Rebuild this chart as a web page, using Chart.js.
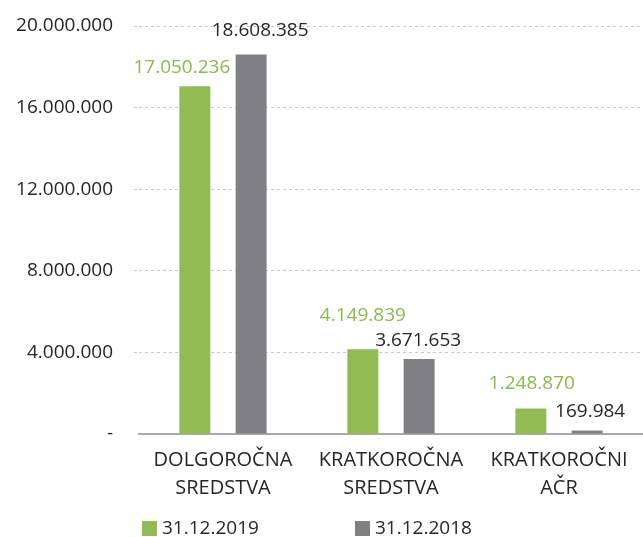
<!DOCTYPE html>
<html>
<head>
<meta charset="utf-8">
<script src="https://cdn.jsdelivr.net/npm/chart.js@4/dist/chart.umd.min.js"></script>
<style>
    html, body { margin: 0; padding: 0; background: #fff; }
    #wrap { width: 643px; height: 537px; }
</style>
</head>
<body>
<div id="wrap"><canvas id="assets-chart"></canvas></div>
<script>
const categories = [['DOLGOROČNA', 'SREDSTVA'], ['KRATKOROČNA', 'SREDSTVA'], ['KRATKOROČNI', 'AČR']];
const seriesNames = ['31.12.2019', '31.12.2018'];
const values2019 = [17050236, 4149839, 1248870];
const values2018 = [18608385, 3671653, 169984];
const yTicks = [0, 4000000, 8000000, 12000000, 16000000, 20000000];

const GREEN = '#92bb53';
const GRAY = '#808084';
const TEXT = '#262626';
const FONT = "'Open Sans', 'DejaVu Sans', sans-serif";

function fmt(n) {
    if (n === 0) return '-';
    return n.toString().replace(/\B(?=(\d{3})+(?!\d))/g, '.');
}

// excel labels were nudged by hand, keep the nudges here
const labelNudge = [
    [[-13, 0], [9, -5]],
    [[0, -15], [-1, 0]],
    [[1, -7], [3, -1]]
];

const valueLabels = {
    id: 'valueLabels',
    afterDatasetsDraw(chart) {
        const c = chart.ctx;
        c.save();
        c.font = '19px ' + FONT;
        c.textAlign = 'center';
        c.textBaseline = 'alphabetic';
        chart.data.datasets.forEach((ds, di) => {
            const meta = chart.getDatasetMeta(di);
            meta.data.forEach((bar, i) => {
                const n = labelNudge[i][di];
                c.fillStyle = di === 0 ? '#8cb94b' : TEXT;
                c.fillText(fmt(ds.data[i]), bar.x + n[0], bar.y - 13 + n[1]);
            });
        });
        c.restore();
    }
};

const bottomLegend = {
    id: 'bottomLegend',
    afterDraw(chart) {
        const c = chart.ctx;
        const y = chart.height - 9;
        const starts = [142, 355];
        c.save();
        c.font = '19px ' + FONT;
        c.textBaseline = 'middle';
        c.textAlign = 'left';
        chart.data.datasets.forEach((ds, di) => {
            const x = starts[di];
            c.fillStyle = ds.backgroundColor;
            c.fillRect(x, y - 7, 15, 15);
            c.fillStyle = TEXT;
            c.fillText(ds.label, x + 20, y + 1);
        });
        c.restore();
    }
};

const ctx = document.getElementById('assets-chart').getContext('2d');
const assetsChart = new Chart(ctx, {
    type: 'bar',
    data: {
        labels: categories,
        datasets: [
            { label: seriesNames[0], data: values2019, backgroundColor: GREEN },
            { label: seriesNames[1], data: values2018, backgroundColor: GRAY }
        ]
    },
    options: {
        responsive: true,
        maintainAspectRatio: false,
        animation: false,
        categoryPercentage: 0.67,
        barPercentage: 0.55,
        layout: {
            padding: { top: 26, right: 0, bottom: 31, left: 0 }
        },
        plugins: {
            legend: { display: false },
            tooltip: { enabled: false }
        },
        scales: {
            x: {
                grid: { display: false },
                border: { color: '#a9a9ad', width: 2 },
                ticks: {
                    color: TEXT,
                    font: { family: FONT, size: 20, lineHeight: 1.4 },
                    padding: 4,
                    maxRotation: 0,
                    autoSkip: false
                }
            },
            y: {
                min: 0,
                max: 20000000,
                afterBuildTicks(axis) {
                    axis.ticks = yTicks.map(v => ({ value: v }));
                },
                afterFit(axis) {
                    axis.width = 139;
                    axis.paddingTop = 0;
                },
                border: { display: false, dash: [3, 3] },
                grid: {
                    color: (c) => c.tick && c.tick.value === 0 ? 'rgba(0,0,0,0)' : '#c9c9c9',
                    lineWidth: 1,
                    drawTicks: true,
                    tickLength: 5,
                    tickBorderDash: [3, 3]
                },
                ticks: {
                    color: TEXT,
                    font: { family: FONT, size: 19 },
                    padding: 21,
                    callback: (v) => fmt(v)
                }
            }
        }
    },
    plugins: [valueLabels, bottomLegend]
});
</script>
</body>
</html>
